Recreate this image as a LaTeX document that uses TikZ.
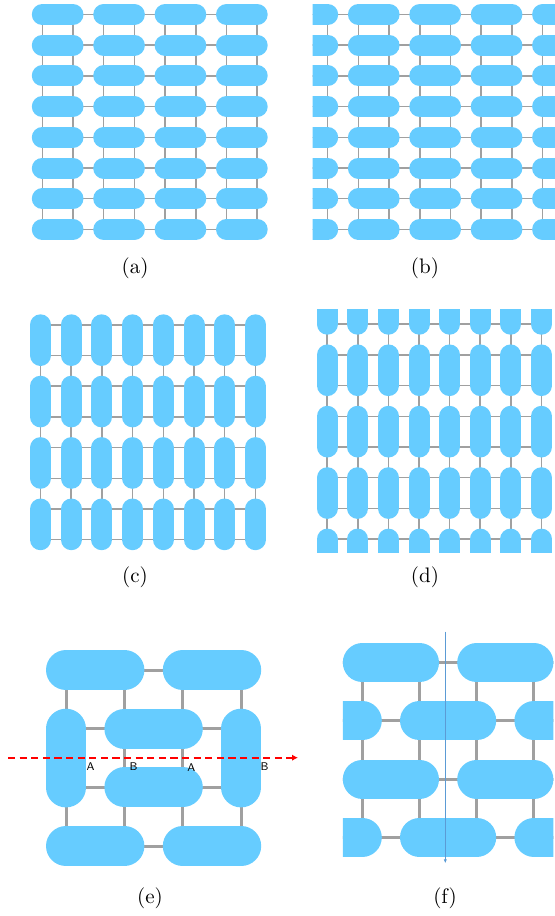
\documentclass[tikz,border=0pt]{standalone}
\usepackage{tikz}
\usetikzlibrary{arrows.meta, positioning}
\definecolor{cPill}{RGB}{102,204,255}
\definecolor{cBond}{RGB}{160,160,160}
\definecolor{cCut}{RGB}{255,0,0}
\definecolor{cSec}{RGB}{91,155,213}
\tikzset{
	bond/.style   ={cBond, line width=0.75pt},
	bondL/.style  ={cBond, line width=1.5pt},
	pill/.style   ={cPill, line width=10.5pt, line cap=round},
	pillL/.style  ={cPill, line width=20pt, line cap=round},
	pillF/.style  ={cPill, line width=19.5pt, line cap=round},
	caption/.style={font=\fontsize{10.5}{12}\selectfont, inner sep=0pt},
	tag/.style    ={font=\sffamily\fontsize{5.6}{6}\selectfont, inner sep=0pt},
	cutline/.style={cCut, line width=0.85pt, dash pattern=on 3.6pt off 2.2pt, -{Latex[length=3pt, width=3.2pt]}},
	secline/.style={cSec, line width=0.35pt, -{Latex[length=2pt, width=1.6pt]}},
}
\begin{document}
\begin{tikzpicture}[x=0.5pt, y=-0.5pt]
	\useasboundingbox (0,0) rectangle (555,916);
	% (a) horizontal pills
	\begin{scope}[shift={(42.3,14.5)}, x=15.35pt, y=-15.35pt]
		\foreach \j in {0,...,7} \draw[bond] (0,\j) -- (7,\j);
		\foreach \i in {0,...,7} \draw[bond] (\i,0) -- (\i,7);
		\foreach \j in {0,...,7} \foreach \k in {0,...,3}
			\draw[pill] ({2*\k},\j) -- ({2*\k+1},\j);
	\end{scope}
	% (b) same lattice, shifted by one site
	\begin{scope}[shift={(327.7,14.5)}, x=15.35pt, y=-15.35pt]
		\clip (-0.49,-1) rectangle (7.4,8);
		\foreach \j in {0,...,7} \draw[bond] (-1,\j) -- (8,\j);
		\foreach \i in {0,...,7} \draw[bond] (\i,0) -- (\i,7);
		\foreach \j in {0,...,7} \foreach \k in {0,...,4}
			\draw[pill] ({2*\k-1},\j) -- ({2*\k},\j);
	\end{scope}
	% (c) vertical pills
	\begin{scope}[shift={(40.5,324.8)}, x=15.35pt, y=-15.35pt]
		\foreach \j in {0,...,7} \draw[bond] (0,\j) -- (7,\j);
		\foreach \i in {0,...,7} \draw[bond] (\i,0) -- (\i,7);
		\foreach \i in {0,...,7} \foreach \k in {0,...,3}
			\draw[pill] (\i,{2*\k}) -- (\i,{2*\k+1});
	\end{scope}
	% (d) vertical pills, shifted by one site
	\begin{scope}[shift={(327.2,324.2)}, x=15.3pt, y=-15.35pt]
		\clip (-1,-0.49) rectangle (8,7.42);
		\foreach \j in {0,...,7} \draw[bond] (0,\j) -- (7,\j);
		\foreach \i in {0,...,7} \draw[bond] (\i,-1) -- (\i,8);
		\foreach \i in {0,...,7} \foreach \k in {0,...,4}
			\draw[pill] (\i,{2*\k-1}) -- (\i,{2*\k});
	\end{scope}
	% (e) unit cell with cut
	\begin{scope}[shift={(66,670)}, x=29.2pt, y=-29.35pt]
		\foreach \j in {0,...,3} \draw[bondL] (0,\j) -- (3,\j);
		\foreach \i in {0,...,3} \draw[bondL] (\i,0) -- (\i,3);
		\foreach \j in {0,3} {\draw[pillL] (0,\j) -- (1,\j); \draw[pillL] (2,\j) -- (3,\j);}
		\foreach \j in {1,2} \draw[pillL] (1,\j) -- (2,\j);
		\foreach \i in {0,3} \draw[pillL] (\i,1) -- (\i,2);
	\end{scope}
	\coordinate (cutS) at (8,757.7);
	\coordinate (cutE) at (298,757.7);
	\draw[cutline] (cutS) -- (cutE);
	\node[tag] (tA1) at (90.5,767) {A};
	\node[tag] (tB1) at (133.5,767) {B};
	\node[tag] (tA2) at (191.3,767.5) {A};
	\node[tag] (tB2) at (264.7,767) {B};
	% (f) unit cell, shifted rows
	\begin{scope}[shift={(362.3,662.7)}, x=28.6pt, y=-29.1pt]
		\clip (-0.341,-1) rectangle (3.34,4);
		\foreach \j in {0,...,3} \draw[bondL] (-1,\j) -- (4,\j);
		\foreach \i in {0,...,3} \draw[bondL] (\i,0) -- (\i,3);
		\foreach \j in {0,2} {\draw[pillF] (0,\j) -- (1,\j); \draw[pillF] (2,\j) -- (3,\j);}
		\foreach \j in {1,3} \foreach \k in {-1,1,3} \draw[pillF] (\k,\j) -- ({\k+1},\j);
	\end{scope}
	\coordinate (secS) at (445.3,631.7);
	\coordinate (secE) at (445.3,863.3);
	\draw[secline] (secS) -- (secE);
	% captions
	\node[caption] (capA) at (135,268) {(a)};
	\node[caption] (capB) at (425,268) {(b)};
	\node[caption] (capC) at (135,577) {(c)};
	\node[caption] (capD) at (425,577) {(d)};
	\node[caption] (capE) at (150,898) {(e)};
	\node[caption] (capF) at (445,898) {(f)};
\end{tikzpicture}
\end{document}
